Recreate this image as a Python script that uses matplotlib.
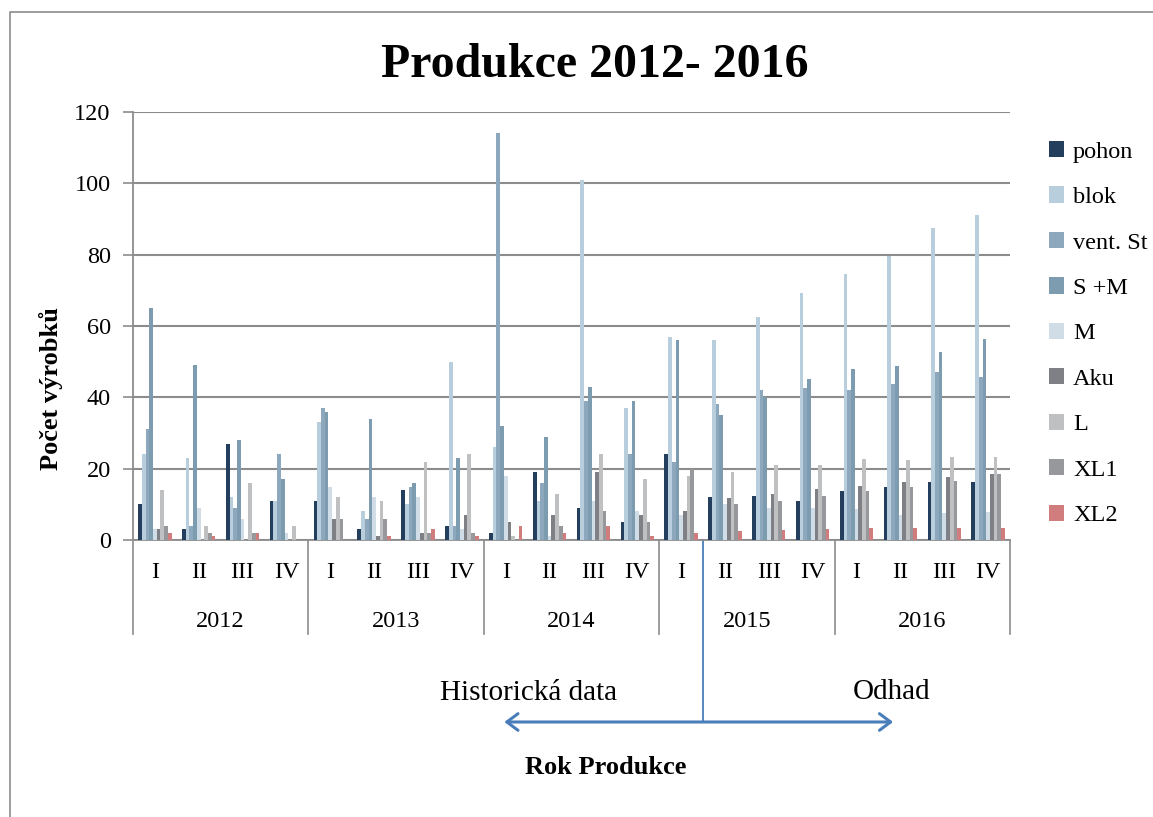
import numpy as np
import matplotlib
matplotlib.use("Agg")
from matplotlib import pyplot as plt
from matplotlib.lines import Line2D
from matplotlib.patches import FancyArrowPatch
from matplotlib.transforms import blended_transform_factory

plt.rcParams['font.family'] = ['Liberation Serif', 'DejaVu Serif']

years = ['2012', '2013', '2014', '2015', '2016']
quarters = ['I', 'II', 'III', 'IV']
series = ['pohon', 'blok', 'vent. St', 'S +M', 'M', 'Aku', 'L', 'XL1', 'XL2']

# values per quarter, 2012 I .. 2016 IV
pohon = [10, 3, 27, 11, 11, 3, 14, 4, 2, 19, 9, 5, 24, 12, 12.4, 11, 13.8, 14.8, 16.2, 16.2]
blok = [24, 23, 12, 11, 33, 8, 10, 50, 26, 11, 101, 37, 57, 56, 62.4, 69.3, 74.7, 79.5, 87.4, 91]
vent_st = [31, 4, 9, 24, 37, 6, 15, 4, 114, 16, 39, 24, 22, 38, 42, 42.5, 42, 43.6, 47, 45.6]
s_m = [65, 49, 28, 17, 36, 34, 16, 23, 32, 29, 43, 39, 56, 35, 40, 45, 48, 48.9, 52.6, 56.4]
m = [3, 9, 6, 2, 15, 12, 12, 3, 18, 1, 11, 8, 7, 10, 9, 9, 8.7, 7.1, 7.5, 7.8]
aku = [3, 0, 0, 0, 6, 1, 2, 7, 5, 7, 19, 7, 8, 11.7, 13, 14.3, 15.2, 16.2, 17.8, 18.5]
l_vals = [14, 4, 16, 4, 12, 11, 22, 24, 1, 13, 24, 17, 18, 19, 21, 21, 22.7, 22.5, 23.2, 23.2]
xl1 = [4, 2, 2, 0, 6, 6, 2, 2, 0, 4, 8, 5, 20, 10, 11, 12.4, 13.8, 14.8, 16.6, 18.5]
xl2 = [2, 1, 2, 0, 0, 1, 3, 1, 4, 2, 4, 1, 2, 2.6, 2.8, 3, 3.4, 3.4, 3.4, 3.4]

data = [pohon, blok, vent_st, s_m, m, aku, l_vals, xl1, xl2]
colors = ['#243F5E', '#B9CEDD', '#8DA8BC', '#7E9CB0', '#D0DDE7',
          '#7F8085', '#BFC0C2', '#97989C', '#D27D7D']

fig = plt.figure(figsize=(11.53, 8.17), dpi=100)
ax = fig.add_axes([0.1153, 0.339, 0.7607, 0.524])

n_q = len(years) * len(quarters)
x = np.arange(n_q) + 0.5
width = 0.76 / len(series)
for i, (vals, c) in enumerate(zip(data, colors)):
    ax.bar(x + (i - 4) * width, vals, width, color=c, label=series[i], zorder=3)

ax.set_xlim(0, n_q)
ax.set_ylim(0, 120)
ax.set_yticks(range(0, 121, 20))
ax.grid(axis='y', color='#8C8C8C', linewidth=1.5, zorder=0)
for s in ['top', 'right']:
    ax.spines[s].set_visible(False)
for s in ['left', 'bottom']:
    ax.spines[s].set_color('#8C8C8C')
    ax.spines[s].set_linewidth(1.3)
ax.tick_params(axis='y', length=7, color='#8C8C8C', width=1.2, labelsize=17.5, pad=9)
ax.set_xticks(x)
ax.set_xticklabels(quarters * len(years), fontsize=17.5)
ax.tick_params(axis='x', length=0, pad=16)

tr = blended_transform_factory(ax.transData, ax.transAxes)
for k in range(len(years) + 1):
    ax.plot([k * 4, k * 4], [0, -0.22], transform=tr, color='#8C8C8C',
            linewidth=1.2, clip_on=False)
for k, yr in enumerate(years):
    ax.text(k * 4 + 2, -0.19, yr, transform=tr, ha='center', va='center', fontsize=17.5)

fig.text(0.516, 0.92, 'Produkce 2012- 2016', ha='center', va='center',
         fontsize=34.5, fontweight='bold')
fig.text(0.044, 0.525, 'Počet výrobků', rotation=90, ha='center', va='center',
         fontsize=19, fontweight='bold')

leg = ax.legend(loc='upper left', bbox_to_anchor=(1.033, 0.955), frameon=False,
                fontsize=17.5, handlelength=0.65, handleheight=0.65,
                handletextpad=0.35, labelspacing=0.98, borderaxespad=0)

# forecast marker below axis
blue = '#4A7EBB'
ax.plot([13, 13], [0, -0.425], transform=tr, color=blue, linewidth=1.3, clip_on=False)
fig.add_artist(FancyArrowPatch(
    (0.435, 0.1163), (0.777, 0.1163), transform=fig.transFigure,
    arrowstyle='<->,head_length=8,head_width=6', color=blue, linewidth=2.2))
fig.text(0.458, 0.152, 'Historická data', ha='center', va='center', fontsize=21)
fig.text(0.773, 0.153, 'Odhad', ha='center', va='center', fontsize=21)
fig.text(0.525, 0.06, 'Rok Produkce', ha='center', va='center',
         fontsize=19, fontweight='bold')

# chart frame
fig.add_artist(Line2D([0.0087, 0.0087, 1.0], [0.0, 0.985, 0.985],
                      transform=fig.transFigure, color='#8C8C8C', linewidth=1.2))

fig.savefig('out.png', dpi=100)
